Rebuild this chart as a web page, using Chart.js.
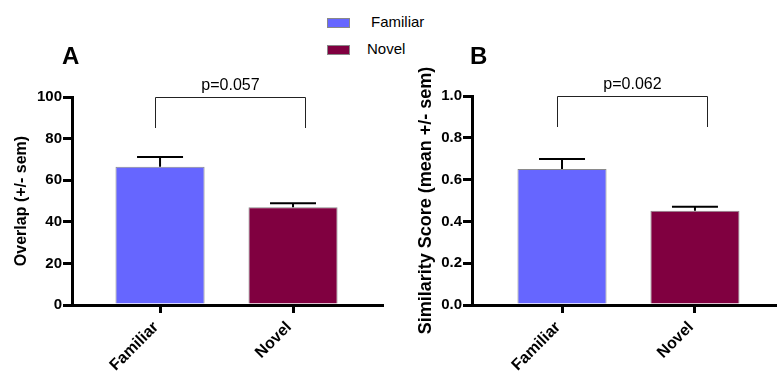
<!DOCTYPE html>
<html>
<head>
<meta charset="utf-8">
<script src="https://cdn.jsdelivr.net/npm/chart.js@4.4.1/dist/chart.umd.min.js"></script>
<style>
  body { margin: 0; background: #fff; width: 777px; height: 371px; overflow: hidden; position: relative;
         font-family: "Liberation Sans", Arial, sans-serif; }
  canvas { position: absolute; top: 0; }
  #chartA { left: 0; }
  #chartB { left: 390px; }
  #legend { position: absolute; left: 327px; top: 0; }
  .legend-item { position: absolute; left: 0; white-space: nowrap; font-size: 15px; color: #000; }
  .legend-box { position: absolute; left: 0; width: 21px; height: 8px; border: 1px solid #888; }
  .legend-text { position: absolute; left: 42px; top: -5px; }
</style>
</head>
<body>
<div id="legend"></div>
<canvas id="chartA" width="390" height="371"></canvas>
<canvas id="chartB" width="387" height="371"></canvas>
<script>
const categories = ['Familiar', 'Novel'];
const barColors = ['#6666FF', '#800040'];

// panel A
const overlapMean = [66.5, 47.0];
const overlapSem = [4.6, 1.9];
const overlapTickLabels = ['0', '20', '40', '60', '80', '100'];

// panel B
const similarityMean = [0.651, 0.451];
const similaritySem = [0.048, 0.019];
const similarityTickLabels = ['0.0', '0.2', '0.4', '0.6', '0.8', '1.0'];

const pLabels = ['p=0.057', 'p=0.062'];

Chart.defaults.color = '#000';
Chart.defaults.font.family = '"Liberation Sans", Arial, sans-serif';

// legend
const legendEl = document.getElementById('legend');
categories.forEach((name, i) => {
  const item = document.createElement('div');
  item.className = 'legend-item';
  item.style.top = (18 + i * 27) + 'px';
  item.innerHTML = '<div class="legend-box" style="background:' + barColors[i] + '"></div>' +
                   '<div class="legend-text" style="left:' + (i === 0 ? 44 : 40) + 'px">' + name + '</div>';
  legendEl.appendChild(item);
});

// error bars (upper only), significance bracket, panel letter
const panelExtras = {
  id: 'panelExtras',
  afterDatasetsDraw(chart, args, opts) {
    const {ctx, chartArea} = chart;
    const xs = chart.scales.x, ys = chart.scales.y;
    const meta = chart.getDatasetMeta(0);
    ctx.save();

    ctx.strokeStyle = '#000';
    ctx.lineWidth = 2;
    meta.data.forEach((bar, i) => {
      const top = ys.getPixelForValue(opts.means[i]);
      const err = ys.getPixelForValue(opts.means[i] + opts.sem[i]);
      ctx.beginPath();
      ctx.moveTo(bar.x, top);
      ctx.lineTo(bar.x, err);
      ctx.moveTo(bar.x - 23, err);
      ctx.lineTo(bar.x + 23, err);
      ctx.stroke();
    });

    const x0 = Math.round(xs.getPixelForValue(opts.bracketX[0])) + 0.5;
    const x1 = Math.round(xs.getPixelForValue(opts.bracketX[1])) + 0.5;
    const yt = Math.round(ys.getPixelForValue(ys.max)) + 0.5;
    const yb = Math.round(ys.getPixelForValue(opts.bracketLow));
    ctx.lineWidth = 1;
    ctx.strokeStyle = '#222';
    ctx.beginPath();
    ctx.moveTo(x0, yb);
    ctx.lineTo(x0, yt);
    ctx.lineTo(x1, yt);
    ctx.lineTo(x1, yb);
    ctx.stroke();

    ctx.fillStyle = '#000';
    ctx.font = '16px "Liberation Sans", Arial, sans-serif';
    ctx.textAlign = 'center';
    ctx.textBaseline = 'alphabetic';
    ctx.fillText(opts.pText, (x0 + x1) / 2, yt - 8);

    ctx.font = 'bold 24px "Liberation Sans", Arial, sans-serif';
    ctx.textAlign = 'left';
    ctx.fillText(opts.letter, chartArea.left + opts.letterDx, 64);
    ctx.restore();
  }
};

function makePanel(id, cfg) {
  const tickValues = cfg.tickLabels.map(Number);
  return new Chart(document.getElementById(id), {
    type: 'bar',
    data: {
      datasets: [{
        data: cfg.means.map((v, i) => ({x: i, y: v})),
        backgroundColor: barColors,
        borderColor: '#8a8a8a',
        borderWidth: 1,
        barPercentage: 0.67,
        categoryPercentage: 1
      }]
    },
    options: {
      responsive: false,
      animation: false,
      layout: { padding: { top: cfg.top, right: cfg.right, left: 0, bottom: 0 } },
      plugins: {
        legend: { display: false },
        tooltip: { enabled: false },
        panelExtras: {
          means: cfg.means,
          sem: cfg.sem,
          bracketX: [-0.04, 1.09],
          bracketLow: cfg.bracketLow,
          pText: cfg.pText,
          letter: cfg.letter,
          letterDx: cfg.letterDx
        }
      },
      scales: {
        x: {
          type: 'linear',
          min: cfg.xMin,
          max: cfg.xMax,
          offset: false,
          afterBuildTicks: (scale) => { scale.ticks = categories.map((c, i) => ({value: i})); },
          afterFit: (scale) => { scale.height = 66; },
          grid: { display: true, drawOnChartArea: false, drawTicks: true, tickLength: 8,
                  lineWidth: 3, color: '#000', offset: false },
          border: { display: true, width: 3, color: '#000' },
          ticks: {
            autoSkip: false, minRotation: 45, maxRotation: 45, padding: 5, labelOffset: -4,
            font: { size: 16, weight: 'bold' },
            callback: (v) => categories[v]
          }
        },
        y: {
          min: tickValues[0],
          max: tickValues[tickValues.length - 1],
          afterBuildTicks: (scale) => { scale.ticks = tickValues.map(v => ({value: v})); },
          afterFit: (scale) => { scale.width = cfg.axisWidth; },
          grid: { display: true, drawOnChartArea: false, drawTicks: true, tickLength: 9,
                  lineWidth: 3, color: '#000' },
          border: { display: true, width: 3, color: '#000' },
          ticks: {
            padding: 1,
            font: { size: 15, weight: 'bold' },
            callback: (v, i) => cfg.tickLabels[i]
          },
          title: {
            display: true,
            text: cfg.yTitle,
            font: { size: cfg.titleSize, weight: 'bold' },
            padding: { top: cfg.titlePad, bottom: 0 }
          }
        }
      }
    },
    plugins: [panelExtras]
  });
}

makePanel('chartA', {
  means: overlapMean, sem: overlapSem, tickLabels: overlapTickLabels,
  yTitle: 'Overlap (+/- sem)', pText: pLabels[0], letter: 'A', letterDx: -10,
  bracketLow: 85, top: 97, right: 8, axisWidth: 72, titlePad: 12, titleSize: 16,
  xMin: -0.662, xMax: 1.669
});

makePanel('chartB', {
  means: similarityMean, sem: similaritySem, tickLabels: similarityTickLabels,
  yTitle: 'Similarity Score (mean +/- sem)', pText: pLabels[1], letter: 'B', letterDx: -2,
  bracketLow: 0.85, top: 96, right: 0, axisWidth: 82, titlePad: 25, titleSize: 18,
  xMin: -0.677, xMax: 1.617
});
</script>
</body>
</html>
